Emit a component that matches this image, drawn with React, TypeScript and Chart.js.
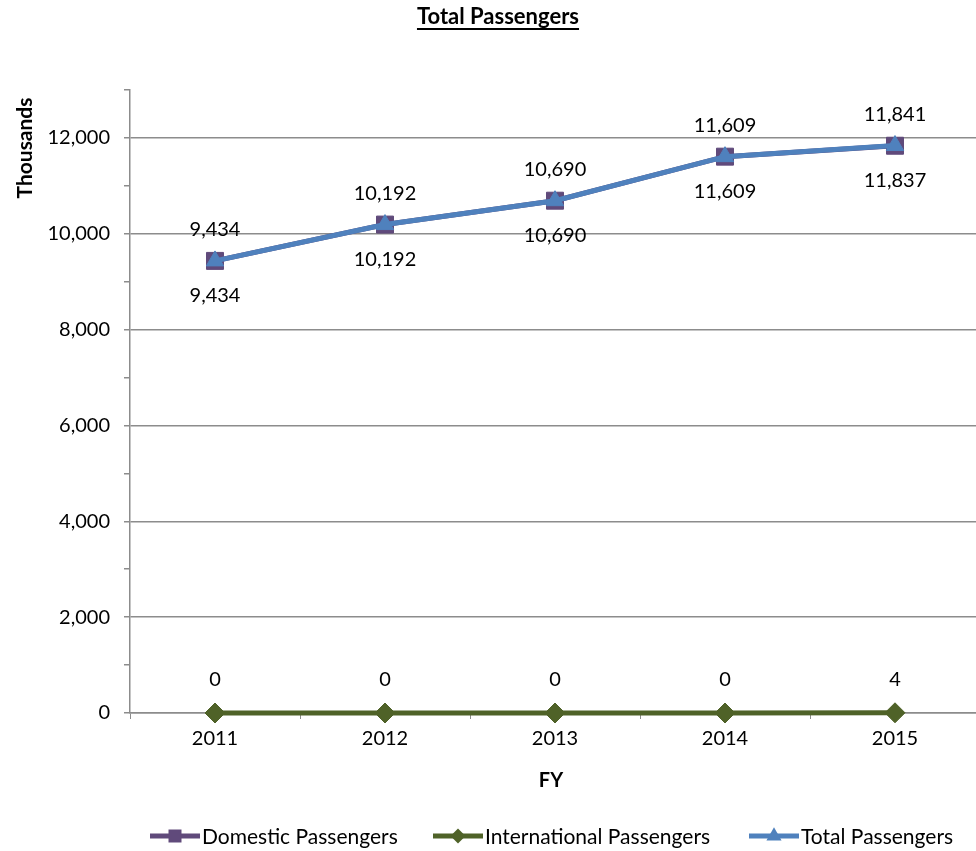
import React, { useEffect, useRef } from "react";
import { Chart, registerables } from "chart.js";

Chart.register(...registerables);

const TITLE = "Total Passengers";
const Y_TITLE = "Thousands";
const X_TITLE = "FY";
const categories = ["2011", "2012", "2013", "2014", "2015"];
const domestic = [9434, 10192, 10690, 11609, 11837];
const international = [0, 0, 0, 0, 4];
const total = [9434, 10192, 10690, 11609, 11841];
const seriesNames = ["Domestic Passengers", "International Passengers", "Total Passengers"];
const yMin = 0;
const yMax = 13000;
const yStep = 1000;
const yLabelStep = 2000;

const FONT = "Lato, 'Open Sans', sans-serif";
const COLORS = ["#604A7B", "#4F6228", "#4F81BD"];
const STYLES = ["rect", "rectRot", "triangle"];
const LABEL_OFFSETS = [35, -33, -31];
const GRID = "#8c8c8c";

function drawMarker(ctx: CanvasRenderingContext2D, style: string, x: number, y: number, s: number) {
  ctx.beginPath();
  if (style === "rect") {
    ctx.rect(x - s / 2, y - s / 2, s, s);
  } else if (style === "rectRot") {
    ctx.moveTo(x, y - s / 2 - 1);
    ctx.lineTo(x + s / 2 + 1, y);
    ctx.lineTo(x, y + s / 2 + 1);
    ctx.lineTo(x - s / 2 - 1, y);
    ctx.closePath();
  } else {
    const r = s / 1.6;
    ctx.moveTo(x, y - r);
    ctx.lineTo(x + r * 0.866, y + r / 2);
    ctx.lineTo(x - r * 0.866, y + r / 2);
    ctx.closePath();
  }
  ctx.fill();
}

const customText = {
  id: "customText",
  afterDatasetsDraw(chart: any) {
    const ctx: CanvasRenderingContext2D = chart.ctx;
    ctx.save();
    ctx.fillStyle = "#000";
    ctx.textAlign = "center";
    ctx.textBaseline = "middle";

    // data labels
    ctx.font = `20px ${FONT}`;
    chart.data.datasets.forEach((ds: any, i: number) => {
      const meta = chart.getDatasetMeta(i);
      const off = LABEL_OFFSETS[ds.seriesIndex];
      meta.data.forEach((pt: any, j: number) => {
        const v = ds.data[j] as number;
        ctx.fillText(v.toLocaleString("en-US"), pt.x, pt.y + off);
      });
    });

    // title
    ctx.font = `bold 22px ${FONT}`;
    ctx.fillText(TITLE, 498, 17);
    const tw = ctx.measureText(TITLE).width;
    ctx.fillRect(498 - tw / 2, 28, tw, 2);

    // x title
    ctx.font = `bold 20px ${FONT}`;
    ctx.fillText(X_TITLE, 551, 781);

    // y title
    ctx.save();
    ctx.font = `bold 21px ${FONT}`;
    ctx.translate(25, 148);
    ctx.rotate(-Math.PI / 2);
    ctx.fillText(Y_TITLE, 0, 0);
    ctx.restore();

    // legend
    const legendX = [150, 433, 749];
    const ly = 836;
    ctx.font = `21px ${FONT}`;
    ctx.textAlign = "left";
    seriesNames.forEach((name, i) => {
      const x0 = legendX[i];
      ctx.strokeStyle = COLORS[i];
      ctx.fillStyle = COLORS[i];
      ctx.lineWidth = 5;
      ctx.beginPath();
      ctx.moveTo(x0, ly);
      ctx.lineTo(x0 + 50, ly);
      ctx.stroke();
      drawMarker(ctx, STYLES[i], x0 + 25, ly, i === 2 ? 14 : 13);
      ctx.fillStyle = "#000";
      ctx.fillText(name, x0 + 52, ly + 1);
    });
    ctx.restore();
  },
};

export default function App() {
  const ref = useRef<HTMLCanvasElement | null>(null);
  useEffect(() => {
    if (!ref.current) return;
    const mk = (idx: number, data: number[], order: number, radius: number) => ({
      label: seriesNames[idx],
      data,
      seriesIndex: idx,
      order,
      clip: false,
      borderColor: COLORS[idx],
      backgroundColor: COLORS[idx],
      pointBackgroundColor: COLORS[idx],
      pointBorderColor: COLORS[idx],
      pointStyle: STYLES[idx],
      pointRadius: radius,
      pointBorderWidth: 1,
      borderWidth: 5,
      tension: 0,
      fill: false,
    });
    const chart = new Chart(ref.current, {
      type: "line",
      data: {
        labels: categories,
        datasets: [
          mk(0, domestic, 2, 12),
          mk(1, international, 1, 10),
          mk(2, total, 0, 10),
        ] as any,
      },
      plugins: [customText],
      options: {
        animation: false,
        responsive: false,
        devicePixelRatio: 1,
        layout: { padding: { top: 90, left: 0, right: 0, bottom: 0 } },
        plugins: {
          legend: { display: false },
          title: { display: false },
          tooltip: { enabled: false },
        },
        scales: {
          x: {
            type: "category",
            offset: true,
            grid: {
              offset: true,
              drawOnChartArea: false,
              tickLength: 6,
              color: GRID,
              tickColor: GRID,
            },
            border: { color: GRID, width: 1.5 },
            ticks: { color: "#000", font: { family: FONT, size: 20 }, padding: 8 },
            afterFit: (s: any) => {
              s.height = 138;
            },
          },
          y: {
            min: yMin,
            max: yMax,
            grid: {
              color: (c: any) => (c.tick && c.tick.value % yLabelStep === 0 ? GRID : "rgba(0,0,0,0)"),
              tickColor: GRID,
              tickLength: 6,
              lineWidth: 1.5,
            },
            border: { color: GRID, width: 1.5 },
            ticks: {
              stepSize: yStep,
              color: "#000",
              font: { family: FONT, size: 20 },
              padding: 14,
              callback: (v: any) => (Number(v) % yLabelStep === 0 ? Number(v).toLocaleString("en-US") : ""),
            },
            afterFit: (s: any) => {
              s.width = 130;
            },
          },
        },
      } as any,
    });
    return () => chart.destroy();
  }, []);
  return (
    <div style={{ position: "fixed", left: 0, top: 0, width: 976, height: 851, overflow: "hidden", background: "#fff" }}>
      <canvas ref={ref} width={993} height={851} style={{ display: "block", width: 993, height: 851 }} />
    </div>
  );
}
